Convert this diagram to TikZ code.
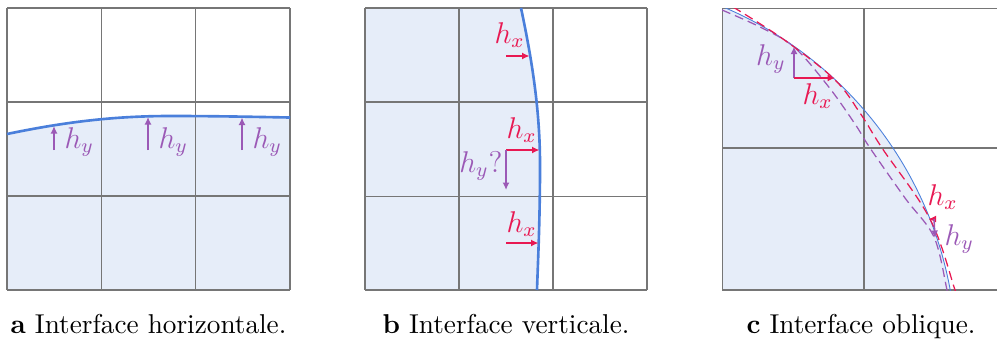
\documentclass[tikz,border=0pt]{standalone}
\usetikzlibrary{arrows.meta}
\definecolor{gridgray}{RGB}{118,118,118}
\definecolor{ifill}{RGB}{230,237,249}
\definecolor{iblue}{RGB}{74,127,219}
\definecolor{hpurple}{RGB}{155,89,182}
\definecolor{hred}{RGB}{232,24,82}
\begin{document}
\begin{tikzpicture}[x=0.4pt,y=-0.4pt,
  gridline/.style={gridgray,line width=0.42pt},
  thickif/.style={iblue,line width=1.05pt},
  thinif/.style={iblue,line width=0.35pt},
  hyarrow/.style={hpurple,line width=0.6pt,-{Latex[length=3pt,width=2.8pt]}},
  hxarrow/.style={hred,line width=0.6pt,-{Latex[length=3pt,width=2.8pt]}},
  hylab/.style={text=hpurple,font=\fontsize{11.5}{13}\selectfont,inner sep=0pt},
  hxlab/.style={text=hred,font=\fontsize{11.5}{13}\selectfont,inner sep=0pt},
  redrec/.style={hred,line width=0.5pt,dash pattern=on 3.6pt off 2pt},
  purprec/.style={hpurple,line width=0.5pt,dash pattern=on 3.6pt off 2pt},
  caption/.style={font=\fontsize{10.9}{13}\selectfont,inner sep=0pt,anchor=base}]
\useasboundingbox (0,0) rectangle (997,340);

% ---------------- panel a ----------------
\fill[ifill] (7,134) .. controls (60,123) and (110,116) .. (170,116)
  .. controls (220,116) and (260,117) .. (290,117.5) -- (290,290) -- (7,290) -- cycle;
\foreach \x in {7,101.3,195.7,290} \draw[gridline] (\x,8) -- (\x,290);
\foreach \y in {8,102,196,290} \draw[gridline] (7,\y) -- (290,\y);
\draw[thickif] (7,134) .. controls (60,123) and (110,116) .. (170,116)
  .. controls (220,116) and (260,117) .. (290,117.5);
\draw[hyarrow] (54,150) -- (54,126);
\draw[hyarrow] (148,150) -- (148,117);
\draw[hyarrow] (242,150) -- (242,117.5);
\node[hylab,anchor=base west] (ay1) at (64,148) {$h_y$};
\node[hylab,anchor=base west] (ay2) at (158,148) {$h_y$};
\node[hylab,anchor=base west] (ay3) at (252,148) {$h_y$};

% ---------------- panel b ----------------
\fill[ifill] (365,8) -- (521,8) .. controls (532,60) and (540,110) .. (540,165)
  .. controls (540,220) and (538,260) .. (537,290) -- (365,290) -- cycle;
\foreach \x in {365,459,553,647} \draw[gridline] (\x,8) -- (\x,290);
\foreach \y in {8,102,196.5,290} \draw[gridline] (365,\y) -- (647,\y);
\draw[thickif] (521,8) .. controls (532,60) and (540,110) .. (540,165)
  .. controls (540,220) and (538,260) .. (537,290);
\draw[hxarrow] (506,56) -- (529.5,56);
\draw[hxarrow] (506,150) -- (539.5,150);
\draw[hyarrow] (506,150) -- (506,190);
\draw[hxarrow] (506,243) -- (538.5,243);
\node[hxlab,anchor=base west] (bx1) at (494,43) {$h_x$};
\node[hxlab,anchor=base west] (bx2) at (506,138) {$h_x$};
\node[hylab,anchor=base east] (by2) at (503,172) {$h_y?$};
\node[hxlab,anchor=base west] (bx3) at (506,232) {$h_x$};

% ---------------- panel c ----------------
\begin{scope}
  \clip (722,8) rectangle (997,290);
  \fill[ifill] (574.4,358.9) circle[radius=382];
  \draw[gridline] (722,8) -- (722,290);
  \draw[gridline] (864,8) -- (864,290);
  \foreach \y in {8,148,290} \draw[gridline] (722,\y) -- (997,\y);
  \draw[thinif] (574.4,358.9) circle[radius=382];
  \draw[purprec] plot[smooth,tension=0.55] coordinates
    {(722,10) (760,27) (794,47) (828,86) (855,124) (870,148) (905,198) (934,237) (947,290) (949,300)};
  \draw[redrec] plot[smooth,tension=0.6] coordinates
    {(733,7) (783,39) (834,79) (860,113) (882,148) (930,219) (955,290) (958,300)};
\end{scope}
\draw[hyarrow] (794,78) -- (794,46.5);
\draw[hxarrow] (794,78) -- (835,78);
\draw[hxarrow] (935,219) -- (928.5,219);
\draw[hyarrow] (934,219) -- (935,238);
\node[hylab,anchor=base east] (cy1) at (786,65) {$h_y$};
\node[hxlab,anchor=base west] (cx1) at (802,104) {$h_x$};
\node[hxlab,anchor=base west] (cx2) at (927,205) {$h_x$};
\node[hylab,anchor=base west] (cy2) at (944,245) {$h_y$};

% ---------------- captions ----------------
\node[caption] (capa) at (148.5,333) {\textbf{a} Interface horizontale.};
\node[caption] (capb) at (506,333) {\textbf{b} Interface verticale.};
\node[caption] (capc) at (861,333) {\textbf{c} Interface oblique.};
\end{tikzpicture}
\end{document}
